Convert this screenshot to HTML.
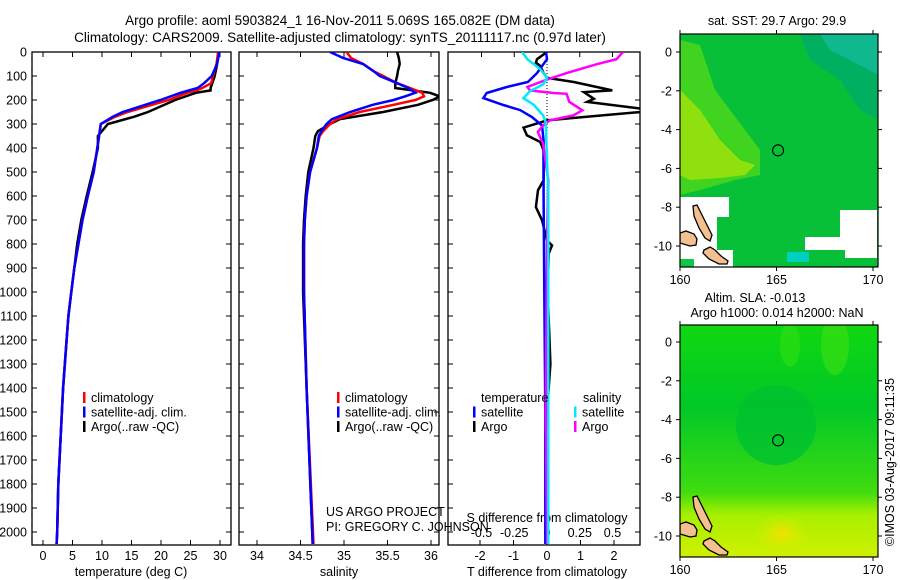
<!DOCTYPE html>
<html><head><meta charset="utf-8"><style>
html,body{margin:0;padding:0;background:#fff;}
svg{display:block;font-family:"Liberation Sans",sans-serif;}
</style></head><body>
<svg id="fig" width="900" height="580" viewBox="0 0 900 580">
<defs>
<clipPath id="c1"><rect x="32" y="52" width="199" height="493"/></clipPath>
<clipPath id="c2"><rect x="239" y="52" width="200" height="493"/></clipPath>
<clipPath id="c3"><rect x="448" y="52" width="192" height="493"/></clipPath>
<clipPath id="cm1"><rect x="680" y="34" width="198" height="233"/></clipPath>
<clipPath id="cm2"><rect x="680" y="325" width="198" height="232"/></clipPath>
<linearGradient id="slag" x1="0" y1="0" x2="0" y2="1">
<stop offset="0" stop-color="#10d810"/><stop offset="0.35" stop-color="#00c828"/><stop offset="0.72" stop-color="#40dc10"/><stop offset="0.82" stop-color="#a8f000"/><stop offset="1" stop-color="#d0f000"/>
</linearGradient>
<radialGradient id="yspot"><stop offset="0" stop-color="#f4e000"/><stop offset="1" stop-color="#d0f000" stop-opacity="0"/></radialGradient>
</defs>
<text x="340" y="25" font-size="13.5" text-anchor="middle">Argo profile: aoml 5903824_1 16-Nov-2011 5.069S 165.082E (DM data)</text>
<text x="340" y="42" font-size="13.5" text-anchor="middle">Climatology: CARS2009. Satellite-adjusted climatology: synTS_20111117.nc (0.97d later)</text>
<g id="panels"></g>
<g id="maps"></g>
</svg>
<script>
// ---- data ----
const depthT = [0,50,100,130,150,160,170,200,250,270,300,350,400,500,600,700,800,900,1000,1100,1200,1400,1600,1800,2000,2050];
const tempArgo = [29.7,29.5,29.1,28.7,28.4,28.4,25.9,22.4,17.8,15.4,11.0,9.3,9.3,8.4,7.4,6.5,5.8,5.3,4.8,4.3,4.0,3.4,3.0,2.6,2.4,2.3];
const tempClim = [29.7,29.4,28.8,28.5,27.0,26.0,24.4,21.3,14.3,12.2,9.8,9.5,9.2,8.6,7.6,6.7,6.0,5.3,4.8,4.3,4.0,3.4,3.0,2.6,2.4,2.3];
const tempSat = [29.9,29.5,28.6,27.3,26.2,24.7,23.3,19.9,13.5,11.8,9.8,9.5,9.2,8.6,7.6,6.7,6.0,5.3,4.8,4.3,4.0,3.4,3.0,2.6,2.4,2.3];
const depthS = [0,25,50,80,100,130,150,170,185,200,220,250,280,300,330,350,400,500,600,700,800,1000,1400,2050];
const salArgo = [35.61,35.63,35.64,35.62,35.61,35.59,35.59,35.99,36.1,36.02,35.85,35.45,34.95,34.84,34.70,34.67,34.65,34.59,34.56,34.54,34.53,34.53,34.57,34.64];
const salClim = [35.03,35.08,35.22,35.34,35.45,35.61,35.76,35.90,35.92,35.82,35.57,35.18,34.92,34.84,34.76,34.72,34.69,34.61,34.57,34.55,34.54,34.54,34.57,34.65];
const salSat = [34.84,34.99,35.22,35.34,35.41,35.61,35.74,35.82,35.70,35.57,35.33,35.07,34.86,34.80,34.74,34.71,34.69,34.61,34.57,34.55,34.54,34.54,34.57,34.64];
const depthDTsat = [0,30,88,125,146,171,192,221,242,271,306,369,600,1000,1500,2050];
const dTsat = [-0.03,0,-0.3,-0.57,-1.2,-1.8,-1.9,-1.3,-0.8,-0.45,-0.15,-0.1,-0.1,-0.08,-0.05,-0.05];
const depthDTargo = [0,30,44,58,88,108,125,160,167,195,208,236,250,271,285,315,347,375,410,535,576,646,701,785,806,840,1000,1300,1600,2050];
const dTargo = [0,-0.3,-0.33,-0.2,-0.1,0,0.8,1.95,1.1,1.4,1.2,2.8,2.8,1.1,0,-0.7,-0.6,-0.2,-0.1,-0.1,-0.27,-0.33,-0.15,0,0.15,0.05,0.02,0.1,-0.05,0];
const depthDSargo = [0,30,51,88,115,146,160,171,174,208,243,264,285,306,333,382,535,800,1500,2050];
const dSargo = [0.58,0.53,0.38,0.15,0,-0.15,-0.13,0.05,0.15,0.17,0.27,0.2,0.02,-0.03,-0.07,-0.03,0.01,0,-0.01,0];
const depthDSsat = [0,30,72,108,135,163,192,221,264,292,600,1200,2050];
const dSsat = [-0.19,-0.15,-0.05,0,-0.03,-0.13,-0.18,-0.1,-0.03,-0.01,0.01,0.01,0.01];
const depthTicks = [0,100,200,300,400,500,600,700,800,900,1000,1100,1200,1300,1400,1500,1600,1700,1800,1900,2000];
const tempTicks = [0,5,10,15,20,25,30];
const salTicks = [34,34.5,35,35.5,36];
const salTickLabels = ["34","34.5","35","35.5","36"];
const dTTicks = [-2,-1,0,1,2];
const dSTicks = [-0.5,-0.25,0,0.25,0.5];
const dSTickLabels = ["-0.5","-0.25","0","0.25","0.5"];
const latTicks = [0,-2,-4,-6,-8,-10];
const lonTicks = [160,165,170];
const floatLon = 165.08, floatLat = -5.07;

// ---- scales ----
const yD = d => 52 + d*0.24;
const xT = t => 43 + t*5.9;
const xS = s => 257 + (s-34)*87;
const xDT = v => 547 + v*33.5;
const xDS = v => 547 + v*131;
const NS = "http://www.w3.org/2000/svg";
function mk(tag, attrs, parent){const e=document.createElementNS(NS,tag);for(const k in attrs)e.setAttribute(k,attrs[k]);parent.appendChild(e);return e;}
const P = document.getElementById('panels');

function line(xs, ds, xf, color, clip, name){
  const pts = xs.map((v,i)=>xf(v).toFixed(1)+","+yD(ds[i]).toFixed(1)).join(" ");
  const e = mk('polyline',{points:pts,fill:'none',stroke:color,'stroke-width':2.5,'clip-path':'url(#'+clip+')'},P);
  
  
}
function box(x,w,name){
  const e = mk('rect',{x:x,y:52,width:w,height:493,fill:'none',stroke:'#000','stroke-width':1.3},P);
  
  
  depthTicks.forEach(d=>{mk('line',{x1:x,x2:x+5,y1:yD(d),y2:yD(d),stroke:'#000'},P);mk('line',{x1:x+w-5,x2:x+w,y1:yD(d),y2:yD(d),stroke:'#000'},P);});
}
function txt(x,y,s,size,anchor,name,color){
  const e = mk('text',{x:x,y:y,'font-size':size,'text-anchor':anchor||'start',fill:color||'#000'},P);
  e.textContent = s;
  
  
  return e;
}
box(32,199,'temperature-panel');
box(239,200,'salinity-panel');
box(448,192,'difference-panel');
depthTicks.forEach(d=>{txt(27,yD(d)+4.5,String(d),12.5,'end','depth-tick-label');});
tempTicks.forEach(t=>{mk('line',{x1:xT(t),x2:xT(t),y1:545,y2:540,stroke:'#000'},P);mk('line',{x1:xT(t),x2:xT(t),y1:52,y2:57,stroke:'#000'},P);txt(xT(t),560,String(t),12.5,'middle','temperature-tick-label');});
salTicks.forEach((s,i)=>{mk('line',{x1:xS(s),x2:xS(s),y1:545,y2:540,stroke:'#000'},P);mk('line',{x1:xS(s),x2:xS(s),y1:52,y2:57,stroke:'#000'},P);txt(xS(s),560,salTickLabels[i],12.5,'middle','salinity-tick-label');});
dTTicks.forEach(v=>{mk('line',{x1:xDT(v),x2:xDT(v),y1:545,y2:540,stroke:'#000'},P);txt(xDT(v),560,String(v),12.5,'middle','t-diff-tick-label');});
dSTicks.forEach((v,i)=>{mk('line',{x1:xDS(v),x2:xDS(v),y1:52,y2:57,stroke:'#000'},P);txt(xDS(v),537,dSTickLabels[i],12.5,'middle','s-diff-tick-label');});
txt(131,576,'temperature (deg C)',12.5,'middle','x-axis-title-temperature');
txt(339,576,'salinity',12.5,'middle','x-axis-title-salinity');
txt(547,576,'T difference from climatology',12.5,'middle','x-axis-title-t-diff');
txt(547,522,'S difference from climatology',12.5,'middle','x-axis-title-s-diff');
mk('line',{x1:547,x2:547,y1:52,y2:200,stroke:'#000','stroke-dasharray':'1,2'},P);

line(tempArgo,depthT,xT,'#000','c1','temperature-argo-line');
line(tempClim,depthT,xT,'#ff0000','c1','temperature-climatology-line');
line(tempSat,depthT,xT,'#0000ff','c1','temperature-satellite-line');
line(salArgo,depthS,xS,'#000','c2','salinity-argo-line');
line(salClim,depthS,xS,'#ff0000','c2','salinity-climatology-line');
line(salSat,depthS,xS,'#0000ff','c2','salinity-satellite-line');
line(dTargo,depthDTargo,xDT,'#000','c3','t-diff-argo-line');
line(dTsat,depthDTsat,xDT,'#0000ff','c3','t-diff-satellite-line');
line(dSargo,depthDSargo,xDS,'#ff00ff','c3','s-diff-argo-line');
line(dSsat,depthDSsat,xDS,'#00e8ff','c3','s-diff-satellite-line');

function legend(x,y,items,prefix){
  items.forEach((it,i)=>{
    const yy=y+i*14.5;
    mk('rect',{x:x,y:yy-10,width:2.5,height:11,fill:it[1]},P);
    txt(x+8,yy,it[0],12.5,'start',prefix+'-legend-entry');
  });
}
const legItems=[['climatology','#ff0000'],['satellite-adj. clim.','#0000ff'],['Argo(..raw -QC)','#000']];
legend(83,402,legItems,'temperature');
legend(337,402,legItems,'salinity');
txt(481,402,'temperature',12.5,'start','difference-legend-temperature-header');
txt(583,402,'salinity',12.5,'start','difference-legend-salinity-header');
legend(473,416.5,[['satellite','#0000ff'],['Argo','#000']],'t-diff');
legend(574,416.5,[['satellite','#00e8ff'],['Argo','#ff00ff']],'s-diff');
txt(326,516,'US ARGO PROJECT',12.5,'start','credit-project');
txt(326,531,'PI: GREGORY C. JOHNSON',12.5,'start','credit-pi');

// ---- maps ----
const M = document.getElementById('maps');
function mapAxes(top,bottom,lat0y,lat10y,name){
  const lx = lon => 680 + (lon-160)*19.3;
  const ly = lat => lat0y + (-lat)*(lat10y-lat0y)/10;
  const e = mk('rect',{x:680,y:top,width:198,height:bottom-top,fill:'none',stroke:'#000','stroke-width':1.2},M);
  
  
  latTicks.forEach(l=>{mk('line',{x1:676,x2:680,y1:ly(l),y2:ly(l),stroke:'#000'},M);mk('line',{x1:878,x2:882,y1:ly(l),y2:ly(l),stroke:'#000'},M);
    const t=mk('text',{x:672,y:ly(l)+4.5,'font-size':12.5,'text-anchor':'end'},M);t.textContent=String(l);
    
    });
  lonTicks.forEach(l=>{mk('line',{x1:lx(l),x2:lx(l),y1:top-4,y2:top,stroke:'#000'},M);mk('line',{x1:lx(l),x2:lx(l),y1:bottom,y2:bottom+4,stroke:'#000'},M);
    const t=mk('text',{x:lx(l),y:bottom+17,'font-size':12.5,'text-anchor':'middle'},M);t.textContent=String(l);
    
    });
  const c=mk('circle',{cx:lx(floatLon),cy:ly(floatLat),r:5.5,fill:'none',stroke:'#000','stroke-width':1.1},M);
  
  
}
function islands(g,dy){
  ["M693,206 l4,-1 4,8 6,12 5,10 -2,6 -5,-3 -6,-10 -5,-12z","M680,233 l6,-2 8,3 3,5 -1,6 -6,1 -10,-3z","M704,250 l6,-3 5,3 6,6 7,5 -1,3 -8,0 -10,-5 -6,-6z"].forEach(p=>{
    const e=mk('path',{d:p,fill:'#f5c090',stroke:'#000','stroke-width':1.3,transform:'translate(0,'+dy+')'},g);
    
    
  });
}
// SST map
const g1=mk('g',{'clip-path':'url(#cm1)'},M);


mk('rect',{x:680,y:34,width:198,height:233,fill:'#08c038'},g1);
mk('path',{d:"M680,40 L700,45 L715,90 L745,130 L760,150 L760,175 L735,180 L700,190 L680,195Z",fill:'#40d420'},g1);
mk('path',{d:"M680,90 L700,110 L720,140 L740,160 L755,165 L745,175 L720,178 L690,180 L680,175Z",fill:'#90e010'},g1);
mk('path',{d:"M800,34 L878,34 L878,120 L860,110 L840,80 L810,60Z",fill:'#00b060'},g1);
mk('path',{d:"M820,34 L878,34 L878,75 L850,60 L830,50Z",fill:'#10b890'},g1);
mk('path',{d:"M680,197 L729,197 L729,217 L717,217 L717,250 L733,250 L733,267 L680,267Z",fill:'#ffffff'},g1);
mk('path',{d:"M805,237 L840,237 L840,210 L877,210 L877,258 L845,258 L845,250 L805,250Z",fill:'#ffffff'},g1);
mk('rect',{x:787,y:252,width:22,height:10,fill:'#00d0c0'},g1);
mk('rect',{x:680,y:259,width:14,height:8,fill:'#10c848'},g1);
islands(g1,0);
mapAxes(34,267,52,246,'sst-map-frame');
// SLA map
const g2=mk('g',{'clip-path':'url(#cm2)'},M);


mk('rect',{x:680,y:325,width:198,height:232,fill:'url(#slag)'},g2);
mk('ellipse',{cx:776,cy:425,rx:40,ry:40,fill:'#00c030',opacity:0.8},g2);
mk('ellipse',{cx:835,cy:345,rx:14,ry:30,fill:'#40e010',opacity:0.6},g2);
mk('ellipse',{cx:790,cy:345,rx:10,ry:22,fill:'#30e010',opacity:0.6},g2);
mk('ellipse',{cx:782,cy:534,rx:28,ry:20,fill:'url(#yspot)'},g2);
islands(g2,291);
mapAxes(325,557,342,536,'sla-map-frame');
function mtxt(x,y,s,name,extra){const t=mk('text',Object.assign({x:x,y:y,'font-size':12.5,'text-anchor':'middle'},extra||{}),M);t.textContent=s;
  
  }
mtxt(777,25,'sat. SST: 29.7  Argo: 29.9','sst-map-title');
mtxt(755,302,'Altim. SLA: -0.013','sla-map-title');
mtxt(777,317,'Argo h1000: 0.014 h2000: NaN','sla-map-subtitle');
mtxt(894,462,'©IMOS 03-Aug-2017 09:11:35','timestamp',{transform:'rotate(-90 894 462)'});
</script>
</body></html>
